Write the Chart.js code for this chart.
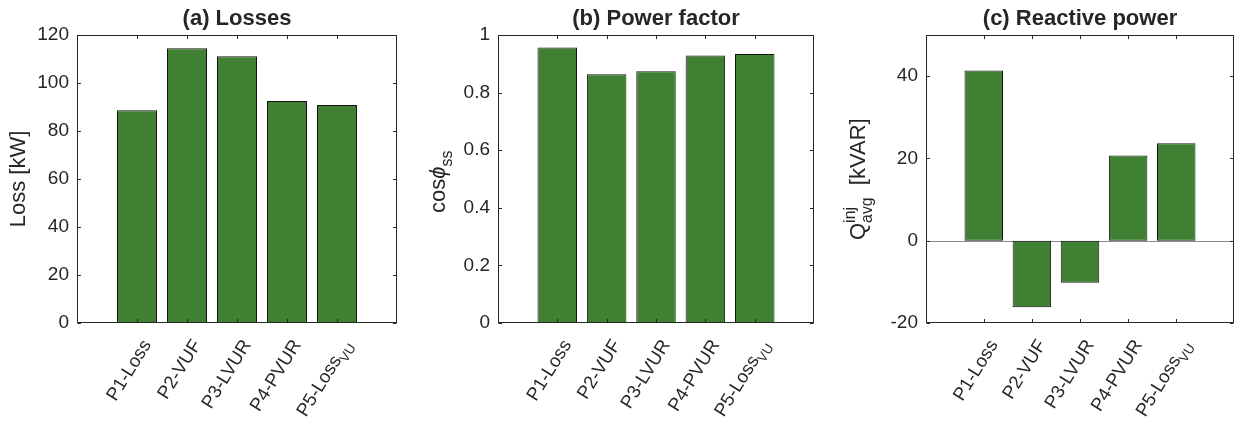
<!DOCTYPE html>
<html>
<head>
<meta charset="utf-8">
<script src="https://cdn.jsdelivr.net/npm/chart.js@4.4.0/dist/chart.umd.min.js"></script>
<style>
  body { margin: 0; background: #fff; }
  #wrap { position: relative; width: 1236px; height: 427px; }
  canvas { position: absolute; top: 0; }
</style>
</head>
<body>
<div id="wrap">
  <canvas id="lossChart" width="415" height="427" style="left:0"></canvas>
  <canvas id="pfChart" width="415" height="427" style="left:415px"></canvas>
  <canvas id="qChart" width="406" height="427" style="left:830px"></canvas>
</div>
<script>
// strategies; "_" marks a subscript
const categories = ['P1-Loss', 'P2-VUF', 'P3-LVUR', 'P4-PVUR', 'P5-Loss_VU'];

const lossKW = [88.6, 114.5, 111.1, 92.5, 90.8];
const powerFactor = [0.957, 0.864, 0.874, 0.929, 0.934];
const reactiveKVAR = [41.4, -16.2, -10.2, 20.7, 23.7];

const lossTicks = [0, 20, 40, 60, 80, 100, 120];
const pfTicks = [0, 0.2, 0.4, 0.6, 0.8, 1];
const qTicks = [-20, 0, 20, 40];

const FONT = '"Liberation Sans", Arial, Helvetica, sans-serif';
const INK = '#262626';
const BAR_GREEN = '#408033';

function setFont(ctx, size, bold, italic) {
  ctx.font = (italic ? 'italic ' : '') + (bold ? 'bold ' : '') + size + 'px ' + FONT;
}

// parts: {t, it} normal text, {sub}, {sup}, or {sup, sub} stacked
function richWidth(ctx, parts, size) {
  let w = 0;
  parts.forEach(p => {
    if (p.t !== undefined) {
      setFont(ctx, size, false, p.it);
      w += ctx.measureText(p.t).width;
    } else {
      setFont(ctx, size * 0.72, false, false);
      w += Math.max(ctx.measureText(p.sup || '').width, ctx.measureText(p.sub || '').width);
    }
  });
  return w;
}

function drawRich(ctx, parts, size, x0) {
  let x = x0;
  ctx.textAlign = 'left';
  ctx.textBaseline = 'alphabetic';
  parts.forEach(p => {
    if (p.t !== undefined) {
      setFont(ctx, size, false, p.it);
      ctx.fillText(p.t, x, 0);
      x += ctx.measureText(p.t).width;
    } else {
      setFont(ctx, size * 0.72, false, false);
      let w = 0;
      if (p.sup) { ctx.fillText(p.sup, x, -size * 0.45); w = ctx.measureText(p.sup).width; }
      if (p.sub) { ctx.fillText(p.sub, x, size * 0.3); w = Math.max(w, ctx.measureText(p.sub).width); }
      x += w;
    }
  });
}

function labelParts(name) {
  const i = name.indexOf('_');
  if (i < 0) return [{ t: name }];
  return [{ t: name.slice(0, i) }, { sub: name.slice(i + 1) }];
}

// MATLAB-like box, inward ticks, rotated category labels, title and y label
const axesDecor = {
  id: 'axesDecor',
  beforeDatasetsDraw(chart, args, opts) {
    const { ctx, chartArea: a } = chart;
    if (opts.baseline) {
      const y0 = Math.round(chart.scales.y.getPixelForValue(0)) + 0.5;
      ctx.save();
      ctx.strokeStyle = '#8a8a8a';
      ctx.lineWidth = 1;
      ctx.beginPath();
      ctx.moveTo(a.left, y0);
      ctx.lineTo(a.right, y0);
      ctx.stroke();
      ctx.restore();
    }
  },
  afterDraw(chart, args, opts) {
    const { ctx, chartArea: a } = chart;
    const xs = chart.scales.x, ys = chart.scales.y;
    const L = Math.round(a.left) + 0.5, R = Math.round(a.right) - 0.5;
    const T = Math.round(a.top) + 0.5, B = Math.round(a.bottom) - 0.5;
    ctx.save();
    ctx.strokeStyle = INK;
    ctx.lineWidth = 1;
    ctx.strokeRect(L, T, R - L, B - T);
    const tl = 3.5;
    ctx.beginPath();
    categories.forEach((c, i) => {
      const px = Math.round(xs.getPixelForValue(i + 1)) + 0.5;
      ctx.moveTo(px, B); ctx.lineTo(px, B - tl);
      ctx.moveTo(px, T); ctx.lineTo(px, T + tl);
    });
    opts.yTicks.forEach(v => {
      const py = Math.round(ys.getPixelForValue(v)) + 0.5;
      ctx.moveTo(L, py); ctx.lineTo(L + tl, py);
      ctx.moveTo(R, py); ctx.lineTo(R - tl, py);
    });
    ctx.stroke();

    ctx.fillStyle = INK;
    // category labels, rotated
    const ls = 18.5;
    categories.forEach((c, i) => {
      const parts = labelParts(c);
      const w = richWidth(ctx, parts, ls);
      ctx.save();
      ctx.translate(xs.getPixelForValue(i + 1) + 9, a.bottom + 18);
      ctx.rotate(-58 * Math.PI / 180);
      ctx.translate(0, ls * 0.36);
      drawRich(ctx, parts, ls, -w);
      ctx.restore();
    });

    // title
    setFont(ctx, 22, true, false);
    ctx.textAlign = 'center';
    ctx.textBaseline = 'alphabetic';
    ctx.fillText(opts.title, (a.left + a.right) / 2, 25);

    // y label
    const ts = 22;
    const tw = richWidth(ctx, opts.yTitle, ts);
    ctx.save();
    ctx.translate(opts.yTitleX, opts.yTitleY);
    ctx.rotate(-Math.PI / 2);
    drawRich(ctx, opts.yTitle, ts, opts.yTitleAlign === 'start' ? 0 : -tw / 2);
    ctx.restore();
    ctx.restore();
  }
};

function makePanel(id, values, yMin, yMax, yTicks, axisWidth, padRight, decor) {
  const ctx = document.getElementById(id).getContext('2d');
  return new Chart(ctx, {
    type: 'bar',
    data: {
      datasets: [{
        data: categories.map((c, i) => ({ x: i + 1, y: values[i] })),
        backgroundColor: BAR_GREEN,
        borderColor: '#151515',
        borderWidth: 1,
        borderSkipped: false,
        barPercentage: 0.8,
        categoryPercentage: 1
      }]
    },
    options: {
      responsive: false,
      animation: false,
      devicePixelRatio: 1,
      layout: { padding: { left: 0, right: padRight, top: 35, bottom: 0 } },
      scales: {
        x: {
          type: 'linear',
          min: -0.2,
          max: 6.2,
          offset: false,
          grid: { display: false },
          border: { display: false },
          ticks: { display: false },
          afterFit: s => { s.height = 104; }
        },
        y: {
          min: yMin,
          max: yMax,
          grid: { display: false, drawTicks: false },
          border: { display: false },
          ticks: {
            color: INK,
            padding: 8,
            font: { family: FONT, size: 19 },
            callback: v => String(+v.toFixed(2))
          },
          afterBuildTicks: s => { s.ticks = yTicks.map(v => ({ value: v })); },
          afterFit: s => { s.width = axisWidth; }
        }
      },
      plugins: {
        legend: { display: false },
        tooltip: { enabled: false },
        axesDecor: Object.assign({ yTicks: yTicks }, decor)
      }
    },
    plugins: [axesDecor]
  });
}

makePanel('lossChart', lossKW, 0, 120, lossTicks, 77, 18, {
  title: '(a) Losses',
  yTitle: [{ t: 'Loss [kW]' }],
  yTitleX: 25, yTitleY: 179
});

makePanel('pfChart', powerFactor, 0, 1, pfTicks, 83, 16, {
  title: '(b) Power factor',
  yTitle: [{ t: 'cos' }, { t: 'ϕ', it: true }, { sub: 'ss' }],
  yTitleX: 30, yTitleY: 213, yTitleAlign: 'start'
});

makePanel('qChart', reactiveKVAR, -20, 50, qTicks, 96, 2, {
  title: '(c) Reactive power',
  yTitle: [{ t: 'Q' }, { sup: 'inj', sub: 'avg' }, { t: '  [kVAR]' }],
  yTitleX: 35, yTitleY: 240, yTitleAlign: 'start',
  baseline: true
});
</script>
</body>
</html>
